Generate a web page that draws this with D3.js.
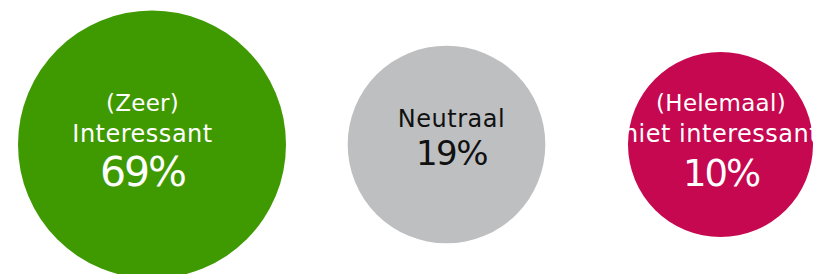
<!DOCTYPE html>
<html>
<head>
<meta charset="utf-8">
<script src="https://cdn.jsdelivr.net/npm/d3@7"></script>
<style>
  html, body { margin: 0; padding: 0; background: #fff; }
  svg { display: block; }
</style>
</head>
<body>
<svg id="chart" width="813" height="274"></svg>
<script>
// data
var categories = ["interessant", "neutraal", "niet"];
var labelTop = ["(Zeer)", "", "(Helemaal)"];
var labelBottom = ["Interessant", "Neutraal", "niet interessant"];
var values = [69, 19, 10];

// styling
var colors = ["#3f9a02", "#bebfc1", "#c5084f"];
var textColors = ["#ffffff", "#111111", "#ffffff"];
var pctSize = [41, 34, 37];
var textShift = [-9.5, 5, 0.5];

var width = 813, height = 274;
var svg = d3.select("#chart");

var x = d3.scaleOrdinal().domain(categories).range([152, 446.5, 720.5]);
var r = d3.scaleLinear().domain([10, 69]).range([92.5, 134]);
var cy = 144.5;

var data = categories.map(function (c, i) {
  return { cat: c, top: labelTop[i], bottom: labelBottom[i], value: values[i],
           color: colors[i], text: textColors[i], pct: pctSize[i], dx: textShift[i] };
});

var g = svg.selectAll(".bubble")
  .data(data).enter().append("g")
  .attr("class", "bubble")
  .attr("transform", function (d) { return "translate(" + x(d.cat) + "," + cy + ")"; });

g.append("circle")
  .attr("r", function (d) { return r(d.value); })
  .attr("fill", function (d) { return d.color; });

var font = "'DejaVu Sans', Verdana, sans-serif";

g.append("text")
  .attr("text-anchor", "middle")
  .attr("x", function (d) { return d.dx; })
  .attr("y", function (d) { return d.top ? -34 : 0; })
  .style("font-family", font).style("font-size", "23px")
  .style("letter-spacing", "0.3px")
  .attr("fill", function (d) { return d.text; })
  .text(function (d) { return d.top; });

g.append("text")
  .attr("text-anchor", "middle")
  .attr("x", function (d) { return d.dx; })
  .attr("y", function (d) { return d.top ? -3 : -18; })
  .style("font-family", font).style("font-size", "24px")
  .style("letter-spacing", "0.5px")
  .attr("fill", function (d) { return d.text; })
  .text(function (d) { return d.bottom; });

g.append("text")
  .attr("text-anchor", "middle")
  .attr("x", function (d) { return d.dx; })
  .attr("y", function (d) { return d.top ? 41 : 20.5; })
  .style("font-family", font)
  .style("font-size", function (d) { return d.pct + "px"; })
  .style("letter-spacing", function (d) { return d.top ? "-2px" : "-1.5px"; })
  .attr("fill", function (d) { return d.text; })
  .text(function (d) { return d.value + "%"; });
</script>
</body>
</html>
